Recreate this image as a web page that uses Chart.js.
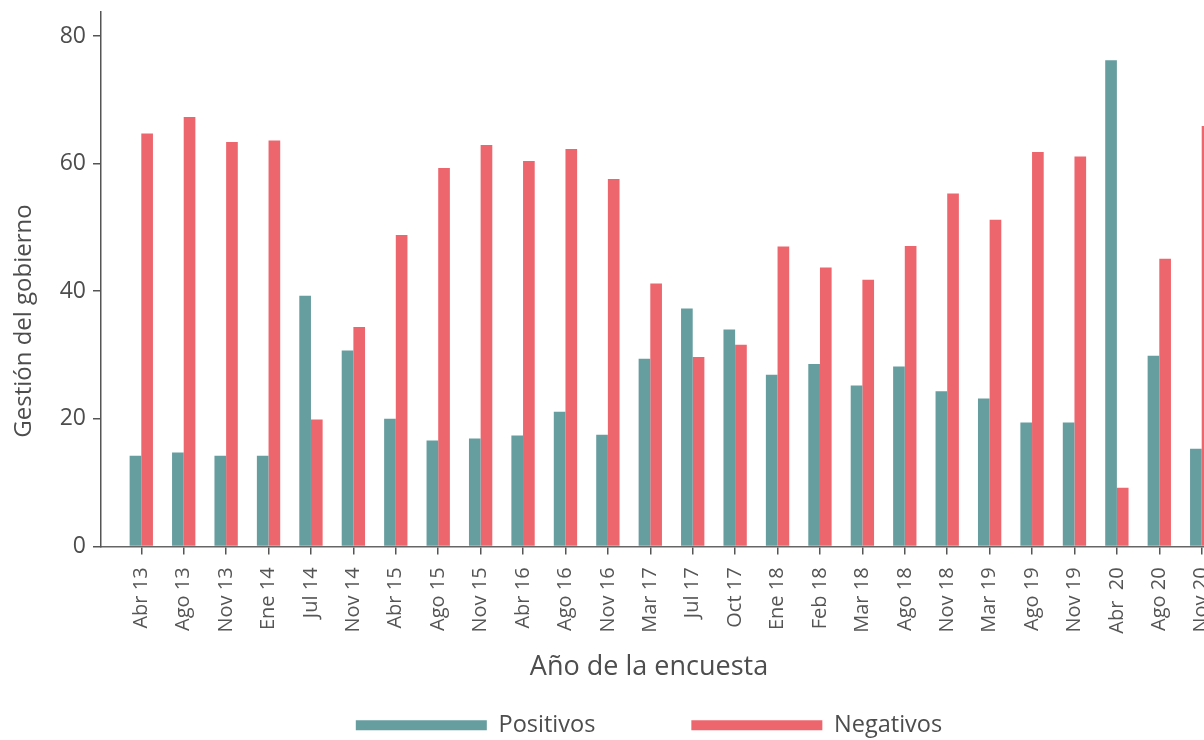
<!DOCTYPE html>
<html lang="es">
<head>
<meta charset="utf-8">
<title>Gestión del gobierno</title>
<script src="https://cdn.jsdelivr.net/npm/chart.js@4"></script>
<style>
  html, body { margin: 0; padding: 0; background: #fff; overflow: hidden; }
</style>
</head>
<body>
<canvas id="grafico" width="1328" height="740"></canvas>
<script>
// Datos
const fechas = ["Abr 13", "Ago 13", "Nov 13", "Ene 14", "Jul 14", "Nov 14", "Abr 15", "Ago 15",
  "Nov 15", "Abr 16", "Ago 16", "Nov 16", "Mar 17", "Jul 17", "Oct 17", "Ene 18", "Feb 18",
  "Mar 18", "Ago 18", "Nov 18", "Mar 19", "Ago 19", "Nov 19", "Abr  20", "Ago 20", "Nov 20"];
const positivos = [14.2, 14.7, 14.2, 14.2, 39.3, 30.7, 20.0, 16.6, 16.9, 17.4, 21.1, 17.5, 29.4,
  37.3, 34.0, 26.9, 28.6, 25.2, 28.2, 24.3, 23.2, 19.4, 19.4, 76.2, 29.9, 15.3];
const negativos = [64.7, 67.3, 63.4, 63.6, 19.9, 34.4, 48.8, 59.3, 62.9, 60.4, 62.3, 57.6, 41.2,
  29.7, 31.6, 47.0, 43.7, 41.8, 47.1, 55.3, 51.2, 61.8, 61.1, 9.2, 45.1, 65.9];
const ticksY = [0, 20, 40, 60, 80];

const gris = "#4d4d4d";
Chart.defaults.font.family = '"Open Sans", sans-serif';
Chart.defaults.color = gris;

// título del eje Y (centrado como en el original) y leyenda subida a su sitio
const ajustes = {
  id: "ajustes",
  afterLayout(chart) {
    const lg = chart.legend;
    lg.top = 617.5;
    lg.bottom = chart.height;
    lg.height = lg.bottom - lg.top;
  },
  afterDraw(chart) {
    const ctx = chart.ctx;
    ctx.save();
    ctx.translate(24, 321);
    ctx.rotate(-Math.PI / 2);
    ctx.font = '24px "Open Sans"';
    ctx.fillStyle = gris;
    ctx.textAlign = "center";
    ctx.textBaseline = "middle";
    ctx.fillText("Gestión del gobierno", 0, 0);
    ctx.restore();
  }
};

new Chart(document.getElementById("grafico"), {
  type: "bar",
  data: {
    datasets: [
      {
        label: "Positivos",
        data: positivos.map((v, i) => ({ x: i, y: v })),
        backgroundColor: "#669d9f",
      },
      {
        label: "Negativos",
        data: negativos.map((v, i) => ({ x: i, y: v })),
        backgroundColor: "#ee666d",
      },
    ],
  },
  options: {
    responsive: false,
    animation: false,
    categoryPercentage: 0.55,
    barPercentage: 1,
    layout: { padding: { top: 12, right: 30, bottom: 0, left: 0 } },
    scales: {
      x: {
        type: "linear",
        position: "bottom",
        offset: false,
        min: -0.95,
        max: 27.27,
        afterFit: (scale) => { scale.height = 90; },
        grid: { offset: false, drawOnChartArea: false, color: "#555", tickLength: 8, lineWidth: 1.5 },
        border: { color: "#666", width: 1.5 },
        ticks: {
          stepSize: 1,
          includeBounds: false,
          autoSkip: false,
          minRotation: 90,
          maxRotation: 90,
          padding: 13,
          color: "#555",
          font: { size: 20 },
          callback: (v) => (Number.isInteger(v) && fechas[v] !== undefined ? fechas[v] : ""),
        },
      },
      y: {
        min: 0,
        max: 80 * 535 / 511,
        afterFit: (scale) => {
          scale.width = 101;
          scale.paddingTop = 0;
          scale.paddingBottom = 0;
        },
        afterBuildTicks: (scale) => { scale.ticks = ticksY.map((v) => ({ value: v })); },
        grid: { drawOnChartArea: false, color: "#555", tickLength: 8, lineWidth: 1.5 },
        border: { color: "#555", width: 1.5 },
        ticks: { padding: 7, color: gris, font: { size: 23 } },
      },
    },
    plugins: {
      tooltip: { enabled: false },
      legend: {
        position: "bottom",
        maxHeight: 1,
        labels: { boxWidth: 131, boxHeight: 10, padding: 96, color: gris, font: { size: 23.5 } },
      },
      title: {
        display: true,
        position: "bottom",
        text: "Año de la encuesta",
        color: gris,
        font: { size: 27, weight: "normal" },
        padding: { top: 13.8, bottom: 56.4 },
      },
    },
  },
  plugins: [ajustes],
});
</script>
</body>
</html>
